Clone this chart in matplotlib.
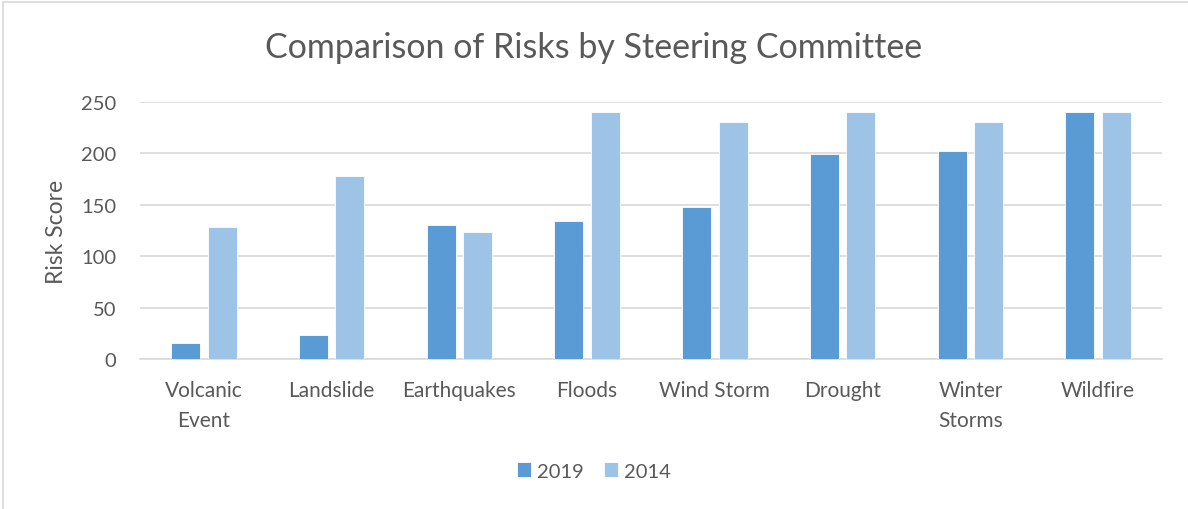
import matplotlib
matplotlib.use("Agg")
import matplotlib.pyplot as plt
import numpy as np
from matplotlib.patches import Rectangle

plt.rcParams['font.family'] = ['Lato', 'DejaVu Sans']

categories = ["Volcanic\nEvent", "Landslide", "Earthquakes", "Floods", "Wind Storm",
              "Drought", "Winter\nStorms", "Wildfire"]
series_names = ["2019", "2014"]
values_2019 = [16, 23, 130, 134, 148, 199, 202, 240]
values_2014 = [128, 178, 124, 240, 231, 240, 231, 240]
yticks = [0, 50, 100, 150, 200, 250]

c2019 = "#5B9BD5"
c2014 = "#9DC3E6"
text_col = "#595959"

fig = plt.figure(figsize=(11.88, 5.10), dpi=100)
ax = fig.add_axes([140/1188, 1 - 360/510, 1022/1188, 257/510])

x = np.arange(len(categories))
w = 0.227
off = 0.143
ax.bar(x - off, values_2019, w, color=c2019, edgecolor="white", linewidth=0.6, label=series_names[0], zorder=3)
ax.bar(x + off, values_2014, w, color=c2014, edgecolor="white", linewidth=0.6, label=series_names[1], zorder=3)

ax.set_xlim(-0.5, len(categories) - 0.5)
ax.set_ylim(0, 250)
ax.set_yticks(yticks)
ax.set_yticklabels([str(t) for t in yticks], fontsize=14.5, color=text_col)
ax.set_xticks(x)
ax.set_xticklabels(categories, fontsize=15, color=text_col, linespacing=1.62)
ax.tick_params(axis='both', length=0)
ax.tick_params(axis='y', pad=17)
ax.tick_params(axis='x', pad=15)
ax.grid(axis='y', color="#D9D9D9", linewidth=1.2, zorder=0)
for s in ['top', 'right', 'left']:
    ax.spines[s].set_visible(False)
ax.spines['bottom'].set_color("#D9D9D9")
ax.spines['bottom'].set_linewidth(1.2)

ax.set_ylabel("Risk Score", fontsize=16.5, color=text_col, labelpad=10)

fig.text(0.5, 1 - 48/510, "Comparison of Risks by Steering Committee", ha='center', va='center',
         fontsize=24.5, color=text_col)

leg = fig.legend(loc='center', bbox_to_anchor=(0.5, 1 - 472/510), ncol=2, frameon=False,
                 fontsize=14.5, handlelength=0.7, handleheight=0.7, handletextpad=0.3,
                 columnspacing=1.0)
for t in leg.get_texts():
    t.set_color(text_col)

# chart border (top and left visible)
fig.add_artist(Rectangle((3/1188, -0.05), 1.2, 1 - 3/510 + 0.05, transform=fig.transFigure,
                         fill=False, edgecolor="#D9D9D9", linewidth=1.2))

fig.savefig("out.png", dpi=100)
